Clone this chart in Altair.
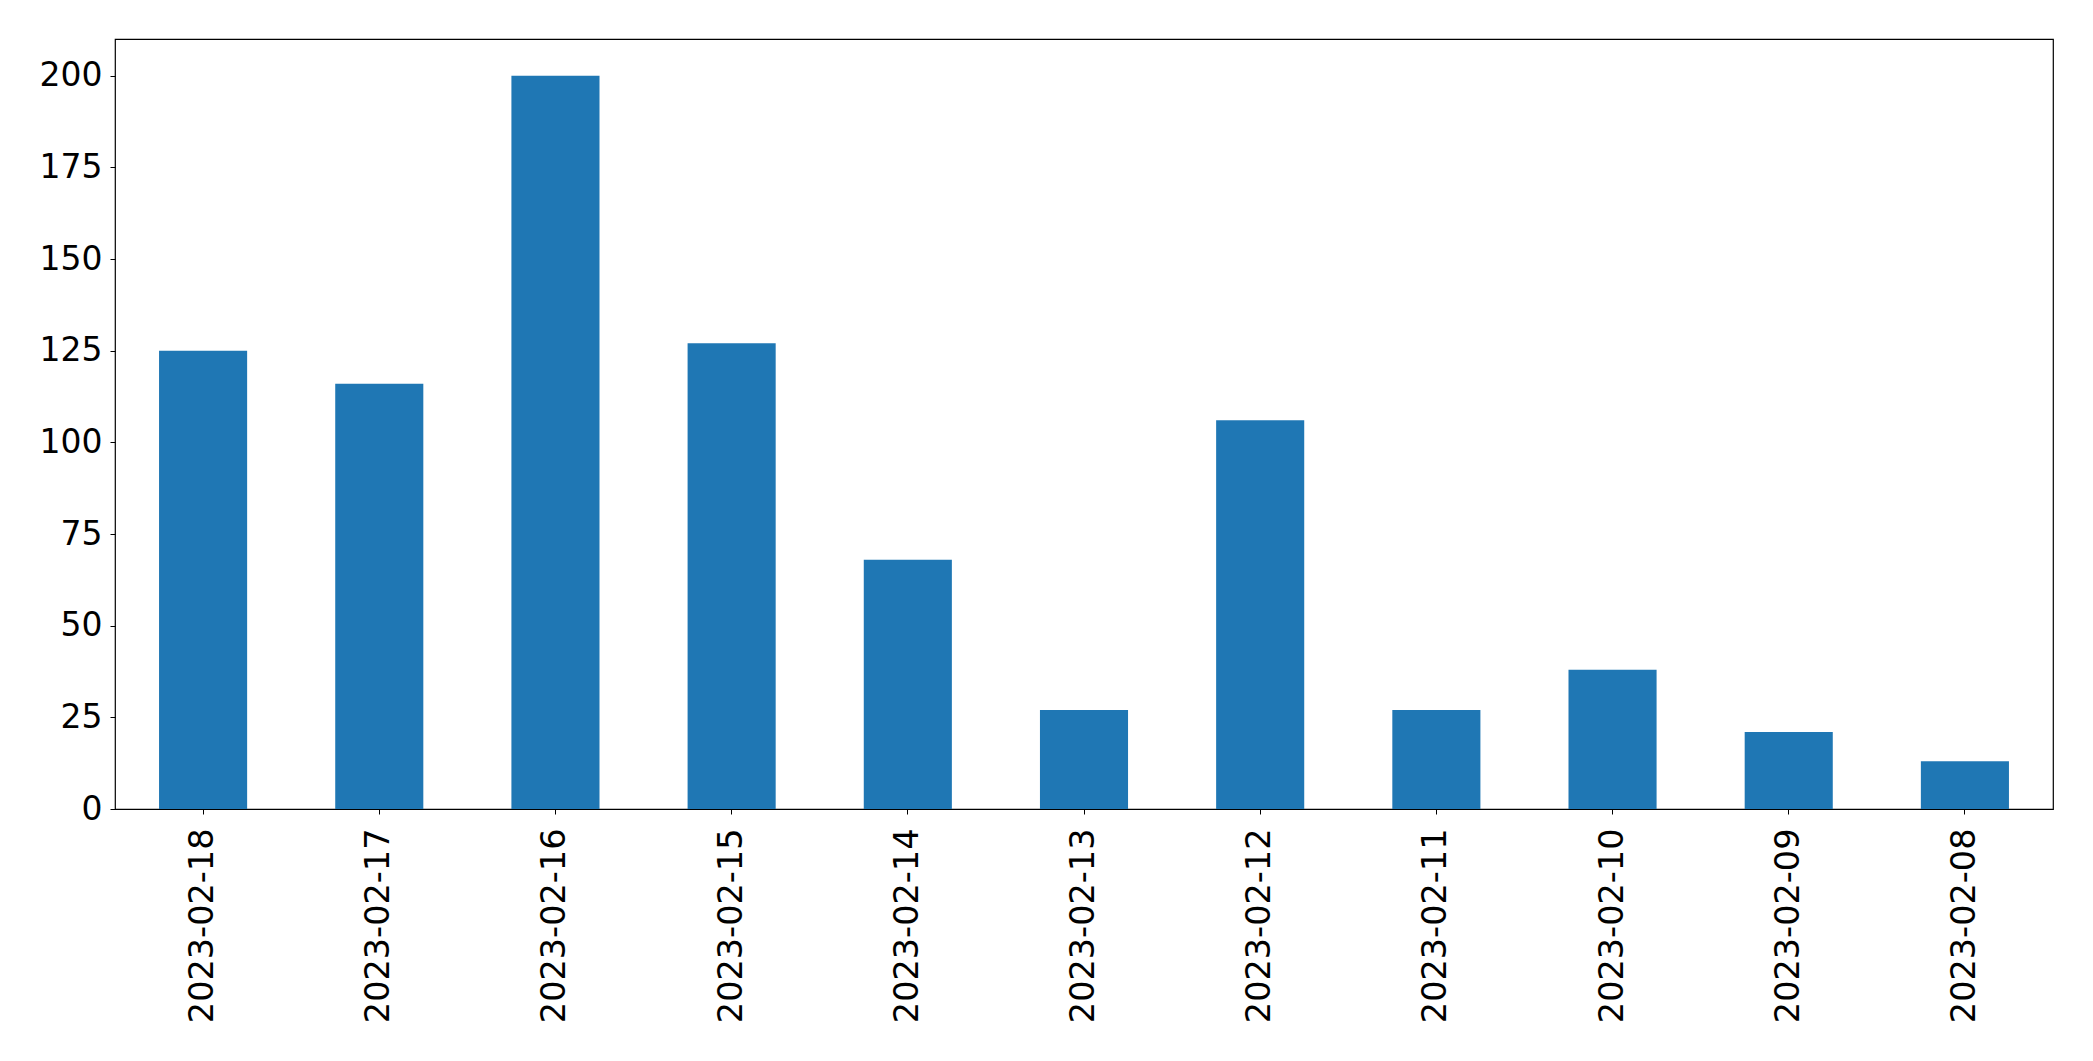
import altair as alt
import pandas as pd

dates = ["2023-02-18", "2023-02-17", "2023-02-16", "2023-02-15", "2023-02-14",
         "2023-02-13", "2023-02-12", "2023-02-11", "2023-02-10", "2023-02-09", "2023-02-08"]
counts = [125, 116, 200, 127, 68, 27, 106, 27, 38, 21, 13]
y_ticks = [0, 25, 50, 75, 100, 125, 150, 175, 200]

df = pd.DataFrame({"date": dates, "count": counts})

chart = alt.Chart(df).mark_bar(color="#1f77b4").encode(
    x=alt.X("date:N", sort=dates, title=None,
            scale=alt.Scale(paddingInner=0.5, paddingOuter=0.25),
            axis=alt.Axis(labelAngle=-90, labelAlign="right", labelBaseline="middle",
                          labelFontSize=33.5, labelFont="DejaVu Sans", labelColor="black",
                          labelLimit=400,
                          tickColor="black", tickSize=5, labelPadding=14,
                          domain=False, grid=False)),
    y=alt.Y("count:Q", title=None,
            scale=alt.Scale(domain=[0, 210], nice=False),
            axis=alt.Axis(values=y_ticks, labelFontSize=33, labelFont="DejaVu Sans",
                          labelColor="black", tickColor="black", tickSize=5,
                          labelPadding=8, domain=False, grid=False)),
).properties(
    width=1938, height=770,
    autosize=alt.AutoSizeParams(type="none"),
    padding={"left": 107, "top": 31, "right": 20, "bottom": 240},
).configure(
    background="white"
).configure_view(
    stroke="black", strokeWidth=1.2
)

chart.save("out.html", embed_options={"renderer": "svg", "actions": False})
